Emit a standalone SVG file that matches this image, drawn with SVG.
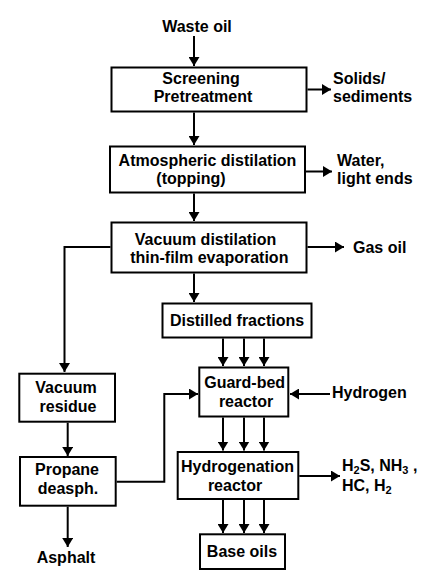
<svg xmlns="http://www.w3.org/2000/svg" width="423" height="573" viewBox="0 0 423 573">
<defs>
<marker id="ah" markerUnits="userSpaceOnUse" markerWidth="10" markerHeight="11" refX="9" refY="5.5" orient="auto" viewBox="0 0 10 11">
<path d="M0,0 L9,5.5 L0,11 z" fill="#000"/>
</marker>
<style>
.box{fill:#fff;stroke:#000;stroke-width:2}
.t{font-family:"Liberation Sans",Arial,sans-serif;font-size:16px;font-weight:bold;fill:#000}
.c{text-anchor:middle}
.sub{font-size:11px}
.ln{fill:none;stroke:#000;stroke-width:2}
.ar{fill:none;stroke:#000;stroke-width:2;marker-end:url(#ah)}
</style>
</defs>
<rect width="423" height="573" fill="#fff"/>
<g id="connectors">
<line class="ar" x1="194" y1="36" x2="194" y2="66"/>
<line class="ar" x1="307.5" y1="89.5" x2="331" y2="89.5"/>
<line class="ar" x1="194" y1="112.5" x2="194" y2="145"/>
<line class="ar" x1="305" y1="171.5" x2="332" y2="171.5"/>
<line class="ar" x1="194" y1="193.5" x2="194" y2="221"/>
<polyline class="ar" points="110.5,247 64.5,247 64.5,372"/>
<line class="ar" x1="307.5" y1="247" x2="344" y2="247"/>
<line class="ar" x1="194" y1="273.5" x2="194" y2="302"/>
<line class="ar" x1="223" y1="338.5" x2="223" y2="366"/>
<line class="ar" x1="244" y1="338.5" x2="244" y2="366"/>
<line class="ar" x1="264" y1="338.5" x2="264" y2="366"/>
<line class="ar" x1="330" y1="394" x2="290" y2="394"/>
<line class="ar" x1="67.7" y1="422.7" x2="67.7" y2="456"/>
<polyline class="ar" points="116.7,481.7 164.3,481.7 164.3,394 198,394"/>
<line class="ar" x1="67.7" y1="506.7" x2="67.7" y2="547"/>
<line class="ar" x1="223" y1="417.5" x2="223" y2="450.5"/>
<line class="ar" x1="244" y1="417.5" x2="244" y2="450.5"/>
<line class="ar" x1="264" y1="417.5" x2="264" y2="450.5"/>
<line class="ar" x1="299.3" y1="476" x2="340" y2="476"/>
<line class="ar" x1="223" y1="500" x2="223" y2="533"/>
<line class="ar" x1="244" y1="500" x2="244" y2="533"/>
<line class="ar" x1="264" y1="500" x2="264" y2="533"/>
</g>
<g id="labels">
<text class="t c" x="197" y="32">Waste oil</text>
<text class="t" x="333" y="84">Solids/</text>
<text class="t" x="333" y="102">sediments</text>
<text class="t" x="337" y="166">Water,</text>
<text class="t" x="337" y="184">light ends</text>
<text class="t" x="353" y="253">Gas oil</text>
<text class="t" x="332" y="398">Hydrogen</text>
<text class="t c" x="66" y="563">Asphalt</text>
<text class="t" x="342" y="471">H<tspan class="sub" dy="2.5">2</tspan><tspan dy="-2.5">S, NH</tspan><tspan class="sub" dy="2.5">3</tspan><tspan dy="-2.5"> ,</tspan></text>
<text class="t" x="342" y="491">HC, H<tspan class="sub" dy="2.5">2</tspan></text>
</g>
<g id="screening">
<rect class="box" x="111.5" y="67.5" width="195" height="44"/>
<text class="t c" x="201" y="84">Screening</text>
<text class="t c" x="203" y="102">Pretreatment</text>
</g>
<g id="atmospheric">
<rect class="box" x="110" y="146.5" width="195" height="46"/>
<text class="t c" x="207.5" y="166">Atmospheric distilation</text>
<text class="t c" x="191" y="184">(topping)</text>
</g>
<g id="vacuum">
<rect class="box" x="111.5" y="222.5" width="195" height="50"/>
<text class="t c" x="205.5" y="245">Vacuum distilation</text>
<text class="t c" x="209.3" y="263">thin-film evaporation</text>
</g>
<g id="distilled">
<rect class="box" x="162.5" y="303.5" width="149" height="34"/>
<text class="t c" x="237" y="326">Distilled fractions</text>
</g>
<g id="guardbed">
<rect class="box" x="199.3" y="367.5" width="89" height="49"/>
<text class="t c" x="244.7" y="388">Guard-bed</text>
<text class="t c" x="246" y="407">reactor</text>
</g>
<g id="residue">
<rect class="box" x="19.3" y="373.7" width="95.7" height="48"/>
<text class="t c" x="66" y="393">Vacuum</text>
<text class="t c" x="68" y="412">residue</text>
</g>
<g id="propane">
<rect class="box" x="20" y="457" width="95.7" height="48.7"/>
<text class="t c" x="67" y="475">Propane</text>
<text class="t c" x="68" y="494">deasph.</text>
</g>
<g id="hydrogenation">
<rect class="box" x="177.7" y="452" width="120.6" height="47"/>
<text class="t c" x="237.5" y="472">Hydrogenation</text>
<text class="t c" x="235" y="491">reactor</text>
</g>
<g id="baseoils">
<rect class="box" x="200" y="534.3" width="85" height="34.7"/>
<text class="t c" x="242" y="557">Base oils</text>
</g>
</svg>
